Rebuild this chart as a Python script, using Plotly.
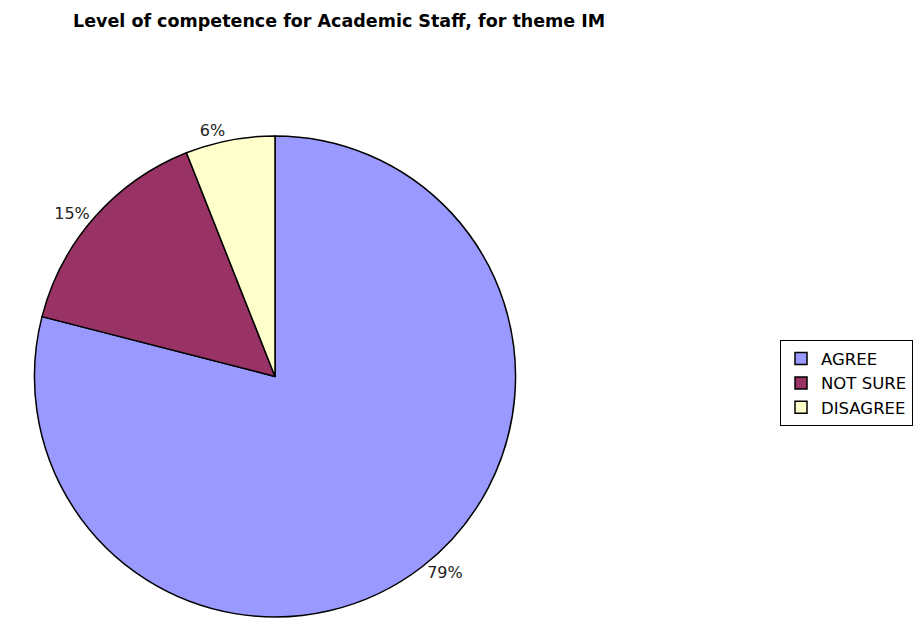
import plotly.graph_objects as go

# Survey responses for the IM theme (percent of academic staff)
categories = ["AGREE", "NOT SURE", "DISAGREE"]
shares = [79, 15, 6]
slice_colors = ["#9999FF", "#993366", "#FFFFCC"]

W, H = 913, 622
FONT = "DejaVu Sans, Verdana, sans-serif"

fig = go.Figure(
    go.Pie(
        labels=categories,
        values=shares,
        sort=False,
        direction="clockwise",
        rotation=0,
        marker=dict(colors=slice_colors, line=dict(color="#000000", width=1.5)),
        texttemplate="%{value}%",
        textposition="outside",
        textfont=dict(family=FONT, size=16, color="#222222"),
        hoverinfo="label+percent",
        domain=dict(x=[32 / W, 518 / W], y=[0.0, 1 - 137 / H]),
    )
)

fig.update_layout(
    width=W,
    height=H,
    margin=dict(l=0, r=0, t=0, b=0),
    paper_bgcolor="#FFFFFF",
    plot_bgcolor="#FFFFFF",
    font=dict(family=FONT, color="#000000"),
    title=dict(
        text="<b>Level of competence for Academic Staff, for theme IM</b>",
        font=dict(family=FONT, size=17.5, color="#000000"),
        x=73 / W,
        xanchor="left",
        y=1 - 21 / H,
        yanchor="middle",
    ),
    legend=dict(
        x=780 / W,
        xanchor="left",
        y=1 - 343 / H,
        yanchor="top",
        bordercolor="#000000",
        borderwidth=1,
        bgcolor="#FFFFFF",
        font=dict(family=FONT, size=16.5, color="#000000"),
        itemwidth=30,
    ),
)

fig.write_html("out.html")
